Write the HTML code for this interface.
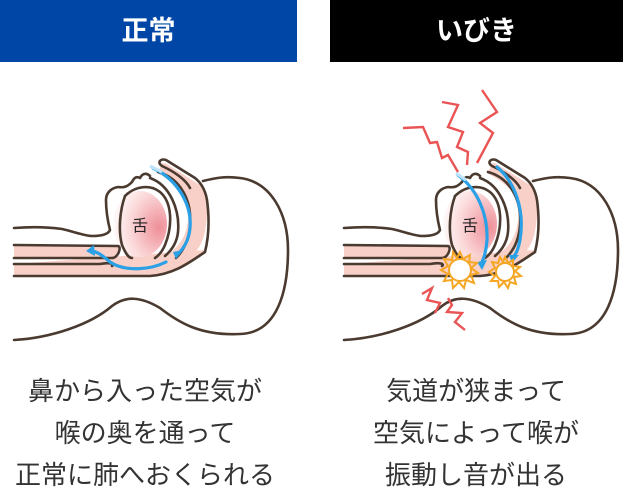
<!DOCTYPE html>
<html><head><meta charset="utf-8"><style>
html,body{margin:0;padding:0;background:#fff;}
body{width:623px;height:491px;position:relative;overflow:hidden;font-family:"Liberation Sans","Noto Sans CJK JP",sans-serif;}
.hd{position:absolute;top:0;height:62px;line-height:62px;text-align:center;color:#fff;font-size:27px;font-weight:bold;}
.txt{position:absolute;top:370px;width:300px;text-align:center;font-size:26px;line-height:42px;color:#333;}
svg{position:absolute;left:0;top:0;}
</style></head><body>
<div class="hd" style="left:0;width:297px;background:#0046a6;">正常</div>
<div class="hd" style="left:330px;width:293px;background:#000;">いびき</div>
<svg width="623" height="491" viewBox="0 0 623 491">
<defs>
<radialGradient id="tg" cx="0.85" cy="0.55" r="0.9">
<stop offset="0" stop-color="#ee8f98"/><stop offset="0.6" stop-color="#fbd9da"/><stop offset="1" stop-color="#fff"/>
</radialGradient>
<g id="head" fill="none" stroke="#4a3a30" stroke-width="2.6" stroke-linejoin="round" stroke-linecap="round">
<path d="M14,245 L118,246 L118,258 L14,258 Z" fill="#f9d0c8" stroke="none"/>
<path d="M14,264 L160,264 L168,262 C180,258 195,250 202,238 C210,220 208,195 200,185 L165,163 L160,170 C180,182 190,200 188,220 C186,240 175,252 160,258 L150,262 L14,264 L14,276 L150,276 C175,272 195,262 205,250 Z" fill="#f9d0c8" stroke="none"/>
<path d="M160,168 C185,180 200,200 200,220 C200,245 185,258 168,262 L150,268 L14,270" fill="none" stroke="#f9d0c8" stroke-width="12" stroke-linecap="butt"/>
<ellipse cx="140" cy="224" rx="27" ry="33" fill="url(#tg)" stroke="none"/>
<path d="M14,245 L118,246 C122,247 118,258 112,258 L14,258"/>
<path d="M14,264 L100,264 C110,262 115,264 112,266"/>
<path d="M14,276 L150,276 C175,274 190,262 205,252 C208,240 210,222 207,200 C205,188 200,182 195,178 L166,160 C160,158 157,163 162,166 C175,172 186,180 190,188"/>
<path d="M203,181 C215,178 225,176 240,178 C272,182 288,215 288,250 C288,290 278,333 240,334 C200,336 178,322 160,308 C140,296 125,296 112,306 C90,325 50,338 14,340"/>
<path d="M14,228 C40,226 55,228 62,229 C75,232 85,236 92,236 C100,236 108,235 110,230 C108,222 106,210 106,200 C106,192 112,188 118,187 C125,188 128,186 132,182 C134,178 136,176 140,178 C142,174 146,172 150,176"/>
<path d="M125,196 C120,210 118,230 122,245 C125,252 128,258 132,258"/>
<path d="M125,196 C135,186 150,184 160,192 C172,202 173,225 165,245 C162,252 158,256 155,258"/>
<path d="M150,178 C170,185 180,210 178,232 C177,242 172,250 165,256"/>
<path d="M158,172 C180,178 192,200 190,225 C189,240 184,250 176,258"/>
</g>
</defs>
<use href="#head"/>
<text x="140" y="231" font-size="16" text-anchor="middle" fill="#222" font-family="Noto Sans CJK JP, sans-serif">舌</text>
<path d="M153,168 C178,180 192,205 190,228 C189,240 184,248 178,254" fill="none" stroke="#2aa0e6" stroke-width="3.2" stroke-linecap="round"/>
<path d="M150,166 L162,172" stroke="#bfe4fa" stroke-width="3.2"/>
<polygon points="173,252 183,250 176,259" fill="#2aa0e6"/>
<path d="M166,262 C150,270 125,272 110,262 C103,256 98,252 92,251" fill="none" stroke="#2aa0e6" stroke-width="3.2" stroke-linecap="round"/>
<polygon points="86,251 94,245 95,256" fill="#2aa0e6"/>

<use href="#head" transform="translate(330,0)"/>
<text x="470" y="231" font-size="16" text-anchor="middle" fill="#222" font-family="Noto Sans CJK JP, sans-serif">舌</text>
<path d="M458,175 C478,190 488,215 487,240 C486,252 484,258 482,262" fill="none" stroke="#2aa0e6" stroke-width="3.2" stroke-linecap="round"/>
<path d="M456,173 L466,180" stroke="#bfe4fa" stroke-width="3.2"/>
<polygon points="477,262 487,260 482,270" fill="#2aa0e6"/>
<path d="M497,167 C515,182 525,210 520,240 C518,250 516,254 514,256" fill="none" stroke="#2aa0e6" stroke-width="3.2" stroke-linecap="round"/>
<polygon points="509,255 519,255 512,263" fill="#2aa0e6"/>
<g fill="none" stroke="#ea5455" stroke-width="2.4" stroke-linejoin="miter">
<polyline points="403,128 423,127 430,143 437,142 442,158 448,155 458,172"/>
<polyline points="442,102 458,105 448,127 463,132 457,147 468,152 467,165"/>
<polyline points="482,90 497,112 480,123 493,133 477,163"/>
<polyline points="422,294 432,288 427,300 440,303 435,313"/>
<polyline points="448,298 452,305 447,312 462,313 455,322 465,330"/>
</g>
<g fill="#fff" stroke="#f5a623" stroke-width="2">
<circle cx="460" cy="270" r="11"/>
<polygon points="460,252 463,259 470,255 469,262 477,263 471,268 478,273 471,275 474,283 466,280 464,288 459,282 453,288 452,280 444,281 448,274 441,270 448,266 444,259 452,260 453,252 457,258" fill="none"/>
<circle cx="505" cy="272" r="9"/>
<polygon points="505,257 508,263 513,260 513,266 520,267 515,271 521,276 514,277 516,284 510,282 508,288 504,282 499,287 498,281 491,281 495,276 489,272 495,268 492,262 498,263 500,257 503,262" fill="none"/>
</g>
</svg>
<div class="txt" style="left:-5px;">鼻から入った空気が<br>喉の奥を通って<br>正常に肺へおくられる</div>
<div class="txt" style="left:326px;">気道が狭まって<br>空気によって喉が<br>振動し音が出る</div>
</body></html>
